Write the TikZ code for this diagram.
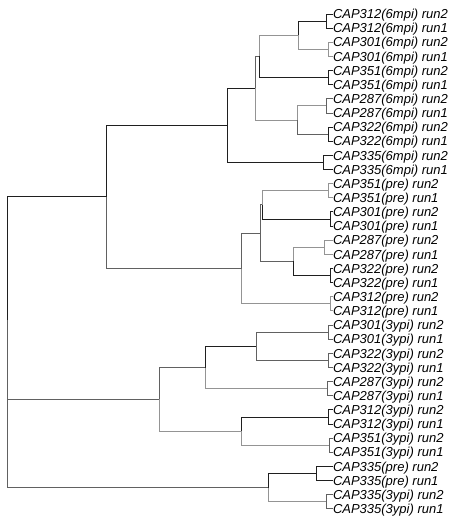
\documentclass[tikz,border=0pt]{standalone}
\usepackage{fontspec}
\setmainfont{Liberation Sans}
\begin{document}
\begin{tikzpicture}[x={(1pt,0)}, y={(0,-1pt)}, line width=0.95pt,
  dk/.style={draw=black!88},
  md/.style={draw=black!62},
  lt/.style={draw=black!42},
  leaf/.style={anchor=west, inner sep=0pt, outer sep=0pt,
    font=\fontsize{13}{14}\selectfont\itshape, text height=9.3pt, text depth=0pt}]
\useasboundingbox (0,0) rectangle (449,523);
% leaves
\foreach \t [count=\i from 0] in {
CAP312(6mpi) run2, CAP312(6mpi) run1, CAP301(6mpi) run2, CAP301(6mpi) run1,
CAP351(6mpi) run2, CAP351(6mpi) run1, CAP287(6mpi) run2, CAP287(6mpi) run1,
CAP322(6mpi) run2, CAP322(6mpi) run1, CAP335(6mpi) run2, CAP335(6mpi) run1,
CAP351(pre) run2, CAP351(pre) run1, CAP301(pre) run2, CAP301(pre) run1,
CAP287(pre) run2, CAP287(pre) run1, CAP322(pre) run2, CAP322(pre) run1,
CAP312(pre) run2, CAP312(pre) run1, CAP301(3ypi) run2, CAP301(3ypi) run1,
CAP322(3ypi) run2, CAP322(3ypi) run1, CAP287(3ypi) run2, CAP287(3ypi) run1,
CAP312(3ypi) run2, CAP312(3ypi) run1, CAP351(3ypi) run2, CAP351(3ypi) run1,
CAP335(pre) run2, CAP335(pre) run1, CAP335(3ypi) run2, CAP335(3ypi) run1}
  \node[leaf] (l\i) at (333, {14+14.14*\i}) {\t};
% pair nodes
\coordinate (p0) at (326.5, 21.07);
\coordinate (p1) at (328, 49.35);
\coordinate (p2) at (328, 77.63);
\coordinate (p3) at (326, 105.91);
\coordinate (p4) at (328, 134.19);
\coordinate (p5) at (323, 162.47);
\coordinate (p6) at (328, 190.75);
\coordinate (p7) at (330, 219.03);
\coordinate (p8) at (324, 247.31);
\coordinate (p9) at (330, 275.59);
\coordinate (p10) at (330, 303.87);
\coordinate (p11) at (328, 332.15);
\coordinate (p12) at (328, 360.43);
\coordinate (p13) at (327, 388.71);
\coordinate (p14) at (328, 416.99);
\coordinate (p15) at (329, 445.27);
\coordinate (p16) at (316, 473.55);
\coordinate (p17) at (326, 501.83);
% internal nodes
\coordinate (a1) at (298, 35.21);
\coordinate (a2) at (259, 56.42);
\coordinate (a3) at (297, 120.05);
\coordinate (a4) at (255, 88.24);
\coordinate (a5) at (227, 125.35);
\coordinate (b1) at (262, 204.89);
\coordinate (b2) at (293, 261.45);
\coordinate (b3) at (260, 233.17);
\coordinate (b4) at (241, 268.52);
\coordinate (c0) at (106, 196.94);
\coordinate (d1) at (256, 346.29);
\coordinate (d2) at (205, 367.50);
\coordinate (d3) at (241, 431.13);
\coordinate (d4) at (159, 399.31);
\coordinate (e1) at (268, 487.69);
\coordinate (f) at (7, 443.50);
\coordinate (root) at (7, 320.22);
% pair brackets
\draw[dk] (p0) |- (l0.west); \draw[dk] (p0) |- (l1.west);
\draw[lt] (p1) |- (l2.west); \draw[lt] (p1) |- (l3.west);
\draw[dk] (p2) |- (l4.west); \draw[dk] (p2) |- (l5.west);
\draw[md] (p3) |- (l6.west); \draw[md] (p3) |- (l7.west);
\draw[dk] (p4) |- (l8.west); \draw[dk] (p4) |- (l9.west);
\draw[dk] (p5) |- (l10.west); \draw[dk] (p5) |- (l11.west);
\draw[lt] (p6) |- (l12.west); \draw[lt] (p6) |- (l13.west);
\draw[dk] (p7) |- (l14.west); \draw[dk] (p7) |- (l15.west);
\draw[lt] (p8) |- (l16.west); \draw[lt] (p8) |- (l17.west);
\draw[dk] (p9) |- (l18.west); \draw[dk] (p9) |- (l19.west);
\draw[lt] (p10) |- (l20.west); \draw[lt] (p10) |- (l21.west);
\draw[md] (p11) |- (l22.west); \draw[md] (p11) |- (l23.west);
\draw[md] (p12) |- (l24.west); \draw[md] (p12) |- (l25.west);
\draw[md] (p13) |- (l26.west); \draw[md] (p13) |- (l27.west);
\draw[dk] (p14) |- (l28.west); \draw[dk] (p14) |- (l29.west);
\draw[md] (p15) |- (l30.west); \draw[md] (p15) |- (l31.west);
\draw[dk] (p16) |- (l32.west); \draw[dk] (p16) |- (l33.west);
\draw[md] (p17) |- (l34.west); \draw[md] (p17) |- (l35.west);
% 6mpi cluster
\draw[dk] (a1) |- (p0); \draw[lt] (a1) |- (p1);
\draw[lt] (a2) |- (a1); \draw[dk] (a2) |- (p2);
\draw[lt] (a3) |- (p3); \draw[md] (a3) |- (p4);
\draw[md] (a4) |- (a2); \draw[lt] (a4) |- (a3);
\draw[dk] (a5) |- (a4); \draw[dk] (a5) |- (p5);
% pre cluster
\draw[lt] (b1) |- (p6); \draw[dk] (b1) |- (p7);
\draw[lt] (b2) |- (p8); \draw[dk] (b2) |- (p9);
\draw[md] (b3) |- (b1); \draw[md] (b3) |- (b2);
\draw[md] (b4) |- (b3); \draw[lt] (b4) |- (p10);
\draw[dk] (c0) |- (a5); \draw[md] (c0) |- (b4);
% 3ypi cluster
\draw[md] (d1) |- (p11); \draw[md] (d1) |- (p12);
\draw[dk] (d2) |- (d1); \draw[lt] (d2) |- (p13);
\draw[dk] (d3) |- (p14); \draw[lt] (d3) |- (p15);
\draw[md] (d4) |- (d2); \draw[lt] (d4) |- (d3);
% 335 cluster
\draw[dk] (e1) |- (p16); \draw[lt] (e1) |- (p17);
\draw[md] (f) |- (d4); \draw[md] (f) |- (e1);
% root
\draw[dk] (root) |- (c0); \draw[md] (root) |- (f);
\end{tikzpicture}
\end{document}
